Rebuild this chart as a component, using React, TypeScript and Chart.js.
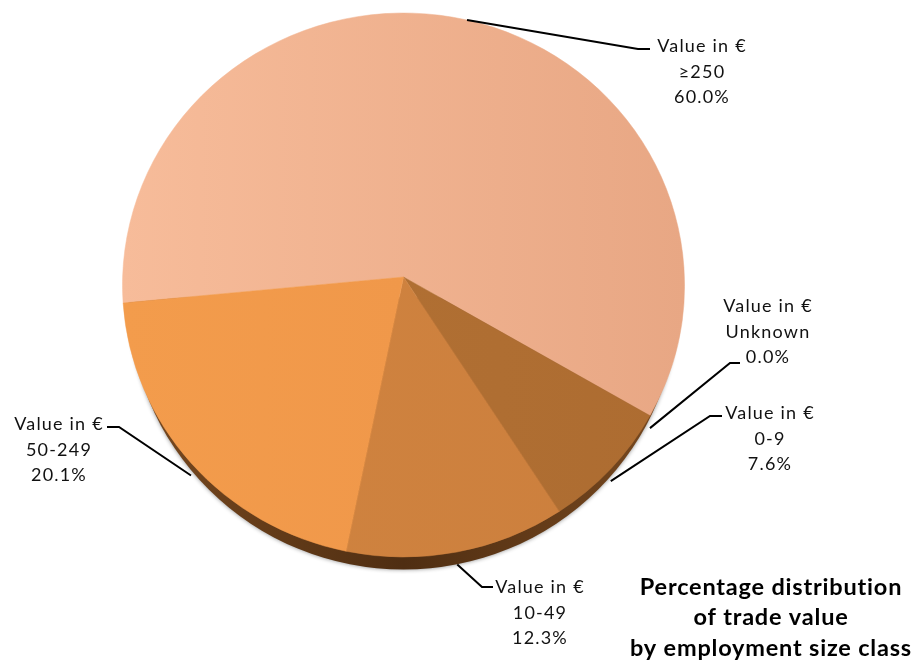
import React, { useEffect, useRef } from "react";
import { Chart, ArcElement, PieController } from "chart.js";

const categories = ["≥250", "Unknown", "0-9", "10-49", "50-249"];
const shares = [60.0, 0.0, 7.6, 12.3, 20.1];
const seriesName = "Value in €";
const titleLines = ["Percentage distribution", "of trade value", "by employment size class"];

const sliceStops = [
  ["#F7BC9A", "#E8A784"],
  ["#8A8A8A", "#8A8A8A"],
  ["#B37234", "#AD6C31"],
  ["#D08440", "#CC7F3D"],
  ["#F39C4C", "#ED9448"],
];
const labelBoxes = [
  { cx: 702, y: 46, elbow: [638, 49], end: [650, 49] },
  { cx: 768, y: 306, elbow: [730, 363], end: [740, 363] },
  { cx: 770, y: 413, elbow: [710, 416], end: [722, 416] },
  { cx: 540, y: 587, elbow: [482, 587], end: [493, 587] },
  { cx: 59, y: 424, elbow: [119, 427], end: [107, 427] },
];

const FONT = "Lato, 'Liberation Sans', sans-serif";
const SQUASH = 272 / 281;
const APEX_LIFT = 8;
const RIM = 12.5;
const DEG = Math.PI / 180;
// The reference is a tilted pie: foreshortening pulls the slice edges slightly.
const warp = (t: number) => t + (-1.9 - 1.9 * Math.cos(t - 28.6 * DEG)) * DEG;

class TiltArc extends ArcElement {
  static id = "tiltArc";
  draw(ctx: CanvasRenderingContext2D) {
    const { x, y, startAngle, endAngle, outerRadius: r } = (this as any).getProps([
      "x", "y", "startAngle", "endAngle", "outerRadius",
    ]);
    if (endAngle - startAngle <= 0) return;
    const fill = (this as any).options.backgroundColor;
    ctx.save();
    ctx.beginPath();
    ctx.moveTo(x, y - APEX_LIFT);
    ctx.ellipse(x, y, r, r * SQUASH, 0, warp(startAngle), warp(endAngle));
    ctx.closePath();
    ctx.fillStyle = fill;
    ctx.strokeStyle = fill;
    ctx.lineWidth = 0.5;
    ctx.fill();
    ctx.stroke();
    ctx.restore();
  }
}

class TiltPie extends PieController {
  static id = "tiltPie";
  static defaults = { dataElementType: "tiltArc" };
}

Chart.register(TiltArc, TiltPie);

const rimPlugin = {
  id: "rim",
  beforeDatasetsDraw(chart: any) {
    const { ctx } = chart;
    const a = chart.getDatasetMeta(0).data[0];
    const g = ctx.createLinearGradient(a.x - a.outerRadius, 0, a.x + a.outerRadius, 0);
    g.addColorStop(0, "#7A4A20");
    g.addColorStop(0.5, "#4F2E12");
    g.addColorStop(1, "#7A4A20");
    ctx.save();
    ctx.shadowColor = "rgba(0,0,0,0.45)";
    ctx.shadowBlur = 4;
    ctx.fillStyle = g;
    ctx.beginPath();
    ctx.ellipse(a.x, a.y + RIM, a.outerRadius - 6, a.outerRadius * SQUASH, 0, 0, Math.PI);
    ctx.closePath();
    ctx.fill();
    ctx.restore();
  },
};

const labelPlugin = {
  id: "calloutLabels",
  afterDatasetsDraw(chart: any) {
    const { ctx } = chart;
    const els = chart.getDatasetMeta(0).data;
    ctx.save();
    els.forEach((el: any, i: number) => {
      const box = labelBoxes[i];
      const t = warp((el.startAngle + el.endAngle) / 2);
      const sin = Math.sin(t);
      const ax = el.x + el.outerRadius * Math.cos(t);
      const ay = el.y + el.outerRadius * SQUASH * sin + (sin > 0 ? RIM : 0);
      ctx.strokeStyle = "#000";
      ctx.lineWidth = 2;
      ctx.beginPath();
      ctx.moveTo(ax, ay);
      ctx.lineTo(box.elbow[0], box.elbow[1]);
      ctx.lineTo(box.end[0], box.end[1]);
      ctx.stroke();

      ctx.fillStyle = "#111";
      ctx.font = `18px ${FONT}`;
      ctx.textAlign = "center";
      ctx.textBaseline = "middle";
      (ctx as any).letterSpacing = "1.2px";
      [seriesName, categories[i], `${shares[i].toFixed(1)}%`].forEach((line, k) => {
        ctx.fillText(line, box.cx, box.y + k * 25.7);
      });
    });
    ctx.font = `700 23.5px ${FONT}`;
    ctx.fillStyle = "#000";
    ctx.textAlign = "center";
    ctx.textBaseline = "middle";
    (ctx as any).letterSpacing = "0.8px";
    titleLines.forEach((line, k) => ctx.fillText(line, 771, 587 + k * 30.5));
    ctx.restore();
  },
};

export default function App() {
  const ref = useRef<HTMLCanvasElement>(null);
  useEffect(() => {
    const chart = new Chart(ref.current as HTMLCanvasElement, {
      type: "tiltPie" as any,
      data: {
        labels: categories,
        datasets: [
          {
            data: shares,
            borderWidth: 0,
            backgroundColor: (c: any) => {
              const stops = sliceStops[c.dataIndex] || sliceStops[0];
              const g = c.chart.ctx.createLinearGradient(122, 0, 685, 0);
              g.addColorStop(0, stops[0]);
              g.addColorStop(1, stops[1]);
              return g;
            },
          },
        ],
      },
      options: {
        responsive: false,
        animation: false,
        events: [],
        rotation: 266.5,
        layout: { padding: { left: 122, right: 230, top: 4, bottom: 96 } },
        plugins: { legend: { display: false }, tooltip: { enabled: false }, title: { display: false } },
      } as any,
      plugins: [rimPlugin, labelPlugin],
    });
    return () => chart.destroy();
  }, []);
  return (
    <div style={{ position: "fixed", left: 0, top: 0, width: 915, height: 662, background: "#fff" }}>
      <canvas ref={ref} width={915} height={662} style={{ display: "block" }} />
    </div>
  );
}
